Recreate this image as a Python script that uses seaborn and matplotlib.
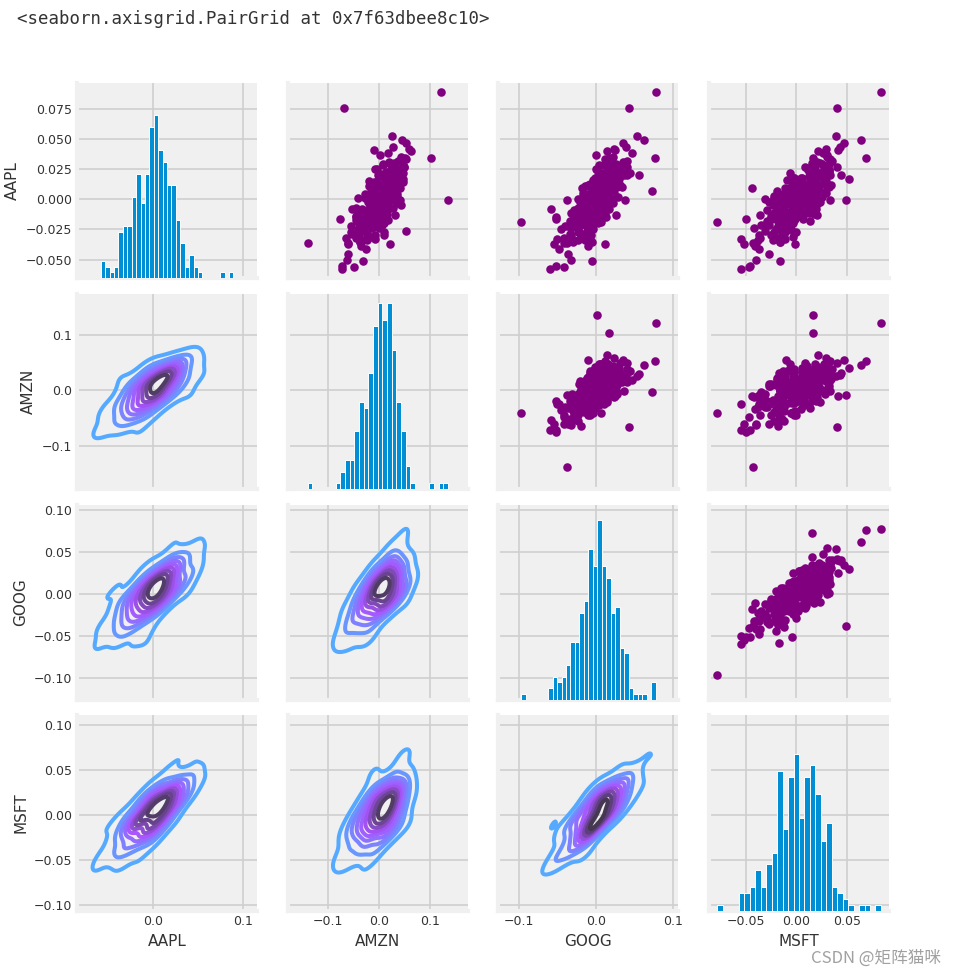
import matplotlib
matplotlib.use('Agg')
import matplotlib.pyplot as plt
from matplotlib.ticker import MultipleLocator
import pandas as pd
import seaborn as sns

# daily returns (one entry per trading day)
aapl = [-0.058, -0.055, -0.056, -0.051, -0.050, -0.045, -0.041, -0.039, -0.036, -0.037,
        -0.037, -0.034, -0.035, -0.033, -0.036, -0.034, -0.035, -0.033, -0.032, -0.031,
        -0.030, -0.029, -0.032, -0.028, -0.030, -0.029, -0.0265, -0.027, -0.025, -0.024,
        -0.026, -0.023, -0.025, -0.024, -0.027, -0.019, -0.022, -0.021, -0.020, -0.019,
        -0.022, -0.020, -0.021, -0.019, -0.022, -0.020, -0.018, -0.021, -0.019, -0.016,
        -0.017, -0.015, -0.014, -0.016, -0.017, -0.015, -0.014, -0.016, -0.018, -0.015,
        -0.014, -0.017, -0.016, -0.015, -0.013, -0.017, -0.014, -0.013, -0.012, -0.011,
        -0.010, -0.012, -0.009, -0.011, -0.010, -0.012, -0.009, -0.011, -0.010, -0.013,
        -0.009, -0.012, -0.008, -0.005, -0.007, -0.006, -0.008, -0.005, -0.004, -0.007,
        -0.006, -0.008, -0.005, -0.004, -0.007, -0.006, -0.005, -0.008, -0.004, -0.006,
        -0.001, -0.001, -0.001, -0.003, -0.002, 0.000, 0.001, -0.003, -0.002, 0.000,
        0.001, -0.002, -0.001, 0.000, -0.003, 0.001, -0.002, 0.000, -0.001, 0.001,
        -0.003, 0.000, -0.002, 0.001, -0.001, 0.000, -0.002, 0.001, -0.001, 0.002,
        0.003, 0.004, 0.005, 0.006, 0.002, 0.003, 0.004, 0.005, 0.006, 0.002,
        0.003, 0.004, 0.005, 0.006, 0.002, 0.003, 0.004, 0.005, 0.006, 0.002,
        0.003, 0.004, 0.005, 0.006, 0.003, 0.004, 0.007, 0.009, 0.007, 0.008,
        0.009, 0.010, 0.011, 0.007, 0.008, 0.009, 0.010, 0.011, 0.007, 0.008,
        0.009, 0.010, 0.011, 0.008, 0.010, 0.009, 0.011, 0.012, 0.013, 0.014,
        0.015, 0.012, 0.013, 0.014, 0.015, 0.012, 0.013, 0.014, 0.015, 0.012,
        0.013, 0.014, 0.015, 0.016, 0.017, 0.020, 0.017, 0.018, 0.019, 0.020,
        0.017, 0.018, 0.019, 0.020, 0.018, 0.019, 0.017, 0.020, 0.018, 0.021,
        0.022, 0.023, 0.024, 0.025, 0.021, 0.022, 0.023, 0.024, 0.025, 0.021,
        0.022, 0.023, 0.024, 0.025, 0.022, 0.026, 0.028, 0.027, 0.029, 0.030,
        0.026, 0.028, 0.029, 0.027, 0.030, 0.034, 0.034, 0.032, 0.033, 0.031,
        0.035, 0.038, 0.037, 0.040, 0.041, 0.043, 0.042, 0.049, 0.047, 0.052,
        0.0755, 0.089]

amzn = [-0.072, -0.072, -0.048, -0.030, -0.062, -0.061, -0.024, -0.034, -0.139, 0.022,
        -0.060, -0.031, -0.037, -0.007, -0.061, -0.022, -0.037, -0.024, -0.064, -0.014,
        -0.008, -0.038, -0.044, -0.023, 0.011, -0.052, 0.054, -0.055, -0.035, 0.001,
        -0.031, -0.018, -0.041, -0.013, 0.011, -0.041, -0.032, 0.007, -0.039, -0.010,
        -0.055, -0.001, -0.003, -0.023, -0.031, 0.011, -0.032, -0.017, -0.023, -0.076,
        0.019, -0.045, 0.004, -0.013, 0.002, -0.030, -0.045, 0.007, -0.020, -0.019,
        -0.006, 0.008, -0.038, 0.004, -0.021, -0.045, 0.006, 0.032, -0.020, -0.024,
        0.010, -0.022, 0.016, -0.025, -0.011, -0.001, -0.031, 0.012, -0.041, -0.005,
        -0.019, 0.016, -0.053, 0.044, 0.022, -0.017, 0.002, 0.001, -0.017, 0.027,
        -0.002, -0.033, 0.009, 0.009, -0.045, 0.019, -0.018, 0.005, 0.009, -0.005,
        0.135, -0.009, 0.030, 0.036, -0.021, 0.007, 0.004, -0.006, 0.012, -0.005,
        -0.013, -0.004, 0.032, -0.013, 0.018, -0.027, 0.018, 0.004, 0.009, -0.040,
        0.017, 0.008, -0.019, 0.022, -0.007, -0.006, -0.018, 0.014, 0.042, -0.001,
        0.007, -0.026, 0.034, 0.001, 0.007, -0.011, 0.035, -0.010, 0.010, 0.016,
        -0.013, 0.011, 0.013, -0.007, 0.031, 0.000, 0.015, -0.018, 0.008, 0.035,
        -0.008, 0.024, 0.006, 0.018, -0.025, 0.022, -0.004, -0.010, 0.023, 0.003,
        0.017, -0.009, 0.032, -0.002, 0.017, 0.042, -0.006, 0.002, 0.023, 0.005,
        0.026, 0.015, -0.020, 0.019, 0.018, -0.009, 0.036, 0.009, 0.035, 0.015,
        -0.019, 0.029, 0.026, -0.006, 0.032, 0.021, -0.001, 0.048, 0.013, 0.021,
        0.025, -0.009, 0.020, 0.034, 0.040, 0.030, 0.048, 0.010, 0.025, -0.001,
        0.019, 0.040, 0.005, 0.032, 0.039, 0.001, 0.021, 0.023, 0.033, 0.005,
        0.022, 0.042, 0.028, -0.008, 0.035, 0.047, 0.014, 0.028, 0.024, 0.037,
        0.032, 0.021, 0.039, -0.004, 0.034, 0.034, 0.009, 0.049, 0.008, 0.030,
        0.026, 0.048, 0.023, 0.050, 0.021, 0.052, 0.103, 0.038, 0.053, 0.020,
        0.044, 0.019, 0.003, 0.063, -0.010, 0.027, 0.059, 0.045, 0.054, 0.026,
        -0.067, 0.122]

goog = [-0.060, -0.052, -0.041, -0.005, -0.032, -0.036, -0.048, -0.011, -0.038, 0.011,
        -0.055, -0.023, -0.005, -0.031, -0.042, -0.015, -0.030, -0.050, -0.019, -0.008,
        -0.032, -0.013, -0.042, -0.021, -0.006, -0.034, -0.010, -0.024, -0.045, -0.007,
        -0.012, -0.024, -0.004, -0.032, -0.022, -0.097, -0.037, -0.013, -0.024, -0.005,
        -0.033, 0.002, -0.020, -0.008, -0.040, -0.011, -0.001, -0.028, 0.007, -0.052,
        -0.012, -0.029, -0.003, 0.007, -0.020, -0.025, -0.008, 0.002, -0.034, -0.052,
        0.001, -0.015, -0.023, 0.013, -0.026, -0.011, 0.006, 0.026, -0.010, -0.032,
        0.003, -0.005, -0.021, 0.010, -0.013, -0.001, -0.028, -0.008, 0.007, -0.018,
        -0.019, 0.012, -0.059, 0.012, -0.003, -0.010, 0.017, -0.018, 0.007, -0.005,
        0.012, -0.016, -0.006, 0.010, -0.024, 0.003, -0.010, 0.013, -0.015, -0.001,
        0.001, -0.038, 0.037, 0.004, 0.014, -0.008, 0.003, 0.022, -0.017, -0.001,
        0.013, -0.021, 0.004, -0.007, 0.018, 0.001, -0.013, 0.014, 0.002, -0.016,
        0.005, 0.018, -0.006, -0.012, 0.005, -0.024, 0.013, -0.001, 0.008, 0.025,
        -0.007, 0.004, 0.023, -0.001, -0.014, 0.014, 0.007, -0.017, 0.018, -0.003,
        0.023, -0.009, 0.011, 0.007, -0.007, 0.019, -0.015, 0.014, 0.002, 0.028,
        0.002, -0.011, 0.016, 0.010, -0.017, 0.011, 0.073, -0.018, -0.005, 0.010,
        0.023, 0.003, -0.008, 0.015, 0.008, -0.002, 0.027, -0.014, 0.012, 0.019,
        0.004, 0.033, -0.004, 0.007, 0.020, 0.000, 0.012, 0.027, -0.008, 0.019,
        -0.002, 0.019, 0.025, 0.010, 0.001, 0.031, 0.006, 0.016, 0.023, -0.010,
        0.017, 0.009, 0.029, -0.004, 0.030, 0.055, 0.005, 0.017, 0.002, 0.036,
        0.007, 0.026, 0.015, 0.040, -0.001, 0.021, 0.004, 0.032, 0.015, 0.006,
        0.037, 0.015, 0.029, 0.000, 0.021, 0.006, 0.040, 0.016, 0.028, 0.030,
        0.010, 0.034, 0.001, 0.027, 0.044, 0.020, 0.009, 0.031, 0.026, 0.015,
        0.026, 0.004, 0.035, 0.040, 0.018, 0.0765, 0.017, 0.040, 0.012, 0.035,
        0.022, 0.047, 0.000, 0.014, 0.025, 0.039, 0.023, 0.062, 0.035, 0.053,
        0.042, 0.077]

msft = [-0.055, -0.046, -0.047, -0.016, -0.040, -0.027, -0.037, -0.041, -0.043, -0.001,
        -0.052, -0.038, -0.016, -0.011, -0.040, -0.023, -0.016, -0.055, -0.018, -0.003,
        -0.037, -0.012, -0.036, -0.002, -0.025, -0.014, -0.010, -0.022, -0.020, -0.016,
        -0.031, -0.017, -0.005, -0.042, 0.000, -0.078, -0.018, -0.027, -0.003, -0.012,
        -0.012, -0.016, -0.035, -0.008, -0.012, -0.017, 0.013, -0.031, -0.004, -0.050,
        -0.019, 0.000, -0.010, -0.015, -0.007, -0.016, -0.025, 0.006, -0.029, -0.004,
        -0.003, -0.026, -0.001, -0.007, -0.036, -0.002, 0.002, 0.020, 0.007, -0.022,
        -0.020, -0.001, -0.012, 0.012, -0.018, 0.017, -0.029, -0.003, -0.005, -0.002,
        -0.004, -0.002, -0.017, 0.010, -0.002, -0.018, 0.019, -0.016, 0.020, -0.014,
        0.000, 0.004, -0.018, 0.008, -0.017, 0.018, -0.023, 0.011, -0.007, -0.013,
        0.016, 0.049, 0.033, -0.007, 0.023, -0.006, -0.010, 0.015, -0.027, 0.015,
        0.001, 0.001, 0.022, -0.017, 0.006, 0.007, -0.015, 0.019, -0.002, -0.022,
        0.017, 0.003, -0.014, -0.001, 0.011, -0.031, 0.015, -0.008, 0.008, 0.025,
        -0.015, 0.006, 0.029, -0.008, 0.002, 0.001, -0.013, 0.008, 0.011, 0.008,
        0.020, -0.011, 0.012, 0.028, -0.017, 0.013, -0.007, -0.004, 0.018, 0.005,
        0.001, 0.017, 0.001, 0.018, -0.022, 0.009, 0.015, -0.044, -0.019, 0.021,
        0.019, -0.005, 0.017, 0.009, 0.000, 0.021, 0.002, 0.009, 0.010, 0.007,
        -0.011, 0.030, 0.001, 0.013, 0.032, -0.006, 0.014, 0.002, 0.013, 0.015,
        0.019, 0.007, -0.003, 0.018, 0.005, 0.034, -0.001, 0.018, 0.004, 0.023,
        0.005, 0.013, 0.029, -0.009, 0.052, 0.030, 0.027, 0.004, 0.012, 0.033,
        0.015, 0.005, 0.022, 0.044, -0.002, 0.029, 0.005, 0.022, -0.002, 0.022,
        0.022, 0.031, 0.011, 0.014, 0.027, -0.006, 0.032, 0.032, 0.016, 0.021,
        0.025, 0.015, 0.032, 0.018, 0.015, 0.027, 0.017, 0.008, 0.032, 0.023,
        0.012, 0.030, 0.025, 0.040, 0.015, 0.068, 0.016, 0.035, 0.033, 0.020,
        0.030, 0.026, 0.030, 0.021, 0.041, 0.043, 0.029, 0.063, 0.047, 0.039,
        0.040, 0.083]

tech_rets = pd.DataFrame({'AAPL': aapl, 'AMZN': amzn, 'GOOG': goog, 'MSFT': msft})

plt.style.use('fivethirtyeight')
plt.rcParams.update({
    'figure.facecolor': 'white',
    'savefig.facecolor': 'white',
    'axes.facecolor': '#f0f0f0',
    'axes.edgecolor': '#f0f0f0',
    'grid.color': '#cfcfcf',
    'grid.linewidth': 1.2,
    'font.size': 9,
    'xtick.labelsize': 9,
    'ytick.labelsize': 9,
    'axes.labelsize': 11,
    'xtick.labelcolor': '#333333',
    'ytick.labelcolor': '#333333',
    'axes.labelcolor': '#333333',
})

returns_fig = sns.PairGrid(tech_rets.dropna())
returns_fig.map_upper(plt.scatter, color='purple', s=38, linewidths=0)
returns_fig.map_lower(sns.kdeplot, cmap='cool_d', linewidths=2.9)
returns_fig.map_diag(plt.hist, bins=30, edgecolor='white', linewidth=0.7)

# tick spacing as in the original grid
x_steps = [0.1, 0.1, 0.1, 0.05]
y_steps = [0.025, 0.1, 0.05, 0.05]
for k in range(4):
    returns_fig.axes[3, k].xaxis.set_major_locator(MultipleLocator(x_steps[k]))
    returns_fig.axes[k, 0].yaxis.set_major_locator(MultipleLocator(y_steps[k]))

fig = returns_fig.figure
fig.set_size_inches(9.57, 9.76)
fig.subplots_adjust(left=0.0805, right=0.929, top=0.915, bottom=0.067,
                    wspace=0.17, hspace=0.08)

# notebook output line and watermark
fig.text(0.018, 1 - 19 / 976, '<seaborn.axisgrid.PairGrid at 0x7f63dbee8c10>',
         family='DejaVu Sans Mono', fontsize=12.5, va='center', color='#333333')
fig.text(0.983, 1 - 958 / 976, 'CSDN @矩阵猫咪', ha='right', va='center',
         fontsize=12, color='#a0a0a0', family=['Noto Sans CJK SC', 'DejaVu Sans'])

fig.savefig('out.png', dpi=100)
